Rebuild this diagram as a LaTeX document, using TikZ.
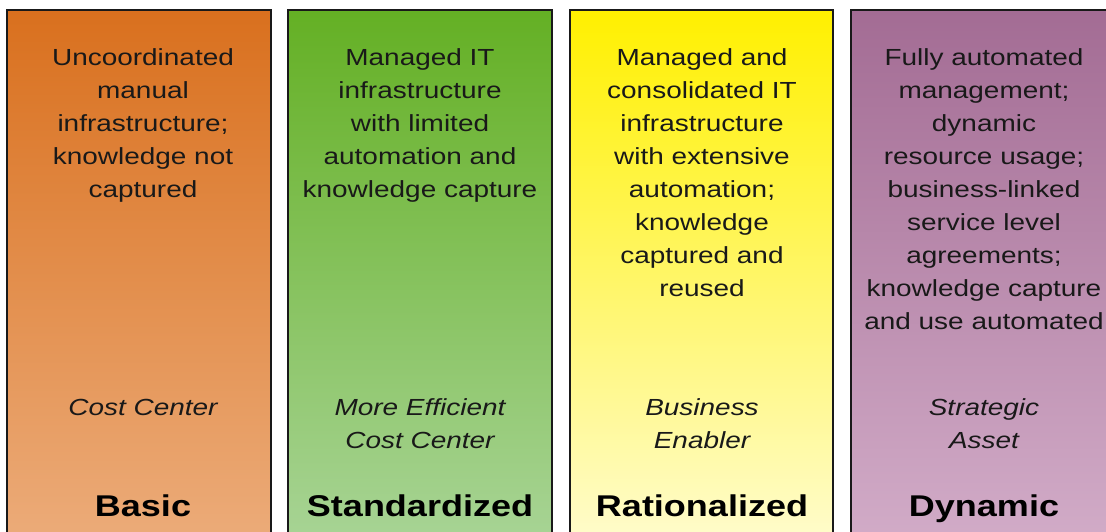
\documentclass[tikz,border=0pt]{standalone}
\usepackage{fontspec}
\setmainfont{Liberation Sans}[FakeStretch=1.2]
\definecolor{oTop}{RGB}{217,112,30}
\definecolor{oMid}{RGB}{224,140,66}
\definecolor{oBot}{RGB}{236,172,122}
\definecolor{gTop}{RGB}{100,176,36}
\definecolor{gMid}{RGB}{150,203,125}
\definecolor{gBot}{RGB}{168,212,150}
\definecolor{yTop}{RGB}{255,240,0}
\definecolor{yMid}{RGB}{255,246,130}
\definecolor{yBot}{RGB}{255,252,205}
\definecolor{pTop}{RGB}{163,108,148}
\definecolor{pMid}{RGB}{195,150,185}
\definecolor{pBot}{RGB}{210,172,200}
\definecolor{ink}{RGB}{25,25,25}
\begin{document}
\begin{tikzpicture}[x=1pt,y=-1pt,
  colbox/.style={draw=ink, line width=1.6pt},
  desc/.style={font=\fontsize{23.3}{33}\selectfont, text=ink, align=center, anchor=base, inner sep=0pt},
  role/.style={font=\itshape\fontsize{23.3}{33}\selectfont, text=ink, align=center, anchor=base, inner sep=0pt},
  level/.style={font=\bfseries\fontsize{30}{36}\selectfont, text=black, anchor=base, inner sep=0pt}]
\useasboundingbox (0,0) rectangle (1106,531);
\clip (0,0) rectangle (1106,531);
\fill[white] (0,0) rectangle (1106,531);
% columns
\path[colbox, top color=oTop, middle color=oMid, bottom color=oBot] (7,10) rectangle (271,545);
\path[colbox, top color=gTop, middle color=gMid, bottom color=gBot] (288,10) rectangle (552,545);
\path[colbox, top color=yTop, middle color=yMid, bottom color=yBot] (570,10) rectangle (833,545);
\path[colbox, top color=pTop, middle color=pMid, bottom color=pBot] (851,10) rectangle (1116,545);
% descriptions (base anchor = baseline of last line)
\node[desc] (d1) at (143,197.5) {Uncoordinated\\manual\\infrastructure;\\knowledge not\\captured};
\node[desc] (d2) at (420,197.5) {Managed IT\\infrastructure\\with limited\\automation and\\knowledge capture};
\node[desc] (d3) at (702,296.5) {Managed and\\consolidated IT\\infrastructure\\with extensive\\automation;\\knowledge\\captured and\\reused};
\node[desc] (d4) at (984,329.5) {Fully automated\\management;\\dynamic\\resource usage;\\business-linked\\service level\\agreements;\\knowledge capture\\and use automated};
% roles
\node[role] (r1) at (143,415) {Cost Center};
\node[role] (r2) at (420,448) {More Efficient\\Cost Center};
\node[role] (r3) at (702,448) {Business\\Enabler};
\node[role] (r4) at (984,448) {Strategic\\Asset};
% levels
\node[level] (l1) at (143,516) {Basic};
\node[level] (l2) at (420,516) {Standardized};
\node[level] (l3) at (702,516) {Rationalized};
\node[level] (l4) at (984,516) {Dynamic};
\end{tikzpicture}
\end{document}
